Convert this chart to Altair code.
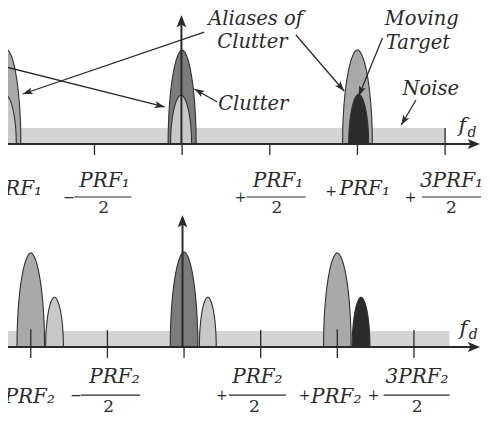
import math
import altair as alt
import pandas as pd

W, H = 474, 405

# ---------------- values ----------------
# spectral lobes: centre (units of PRF), half-width (PRF), relative amplitude, kind
top_outer_c = [-1.0, 0.0, 1.0]
top_outer_w = [0.080, 0.080, 0.085]
top_outer_h = [1.0, 1.0, 1.0]
top_outer_k = ["alias", "clutter", "alias"]
top_inner_c = [-1.006, -0.006, 1.007]
top_inner_w = [0.060, 0.060, 0.057]
top_inner_h = [0.52, 0.52, 0.53]
top_inner_k = ["target alias", "target alias", "target"]

bot_outer_c = [-1.0, 0.0, 1.0]
bot_outer_w = [0.09, 0.09, 0.09]
bot_outer_h = [1.0, 1.01, 1.0]
bot_outer_k = ["alias", "clutter", "alias"]
bot_inner_c = [-0.845, 0.155, 1.155]
bot_inner_w = [0.058, 0.055, 0.058]
bot_inner_h = [0.53, 0.53, 0.53]
bot_inner_k = ["target alias", "target alias", "target"]

noise_level = 0.17
top_noise = [-1.2, 1.5]
bot_noise = [-1.3, 1.732]

tick_f = [-1.0, -0.5, 0.0, 0.5, 1.0, 1.5]
top_tick_up = [0.0, 0.0, 0.0, 0.0, 0.0, 0.17]
bot_tick_up = [0.19, 0.18, 0.0, 0.18, 0.19, 0.18]
tick_down = -0.117

top_axis_end, bot_axis_end = 1.699, 1.932
top_spike = [-0.004, 1.372]
bot_spike = [-0.01, 1.404]

# tick label texts
top_sign_t = ["−", "−", "+", "+", "+"]
top_main_t = ["PRF₁", "PRF₁", "PRF₁", "PRF₁", "3PRF₁"]
bot_sign_t = ["−", "−", "+", "+", "+"]
bot_main_t = ["PRF₂", "PRF₂", "PRF₂", "PRF₂", "3PRF₂"]

# ---------------- layout of annotations ----------------
top_sign_xy = [(-1.12, -0.548), (-0.6447, -0.622), (0.3333, -0.622), (0.850, -0.548), (1.3035, -0.622)]
top_main_xy = [(-0.9427, -0.543), (-0.4424, -0.457), (0.5469, -0.457), (1.0416, -0.543), (1.5363, -0.457)]
top_bars = [(-0.6166, -0.2906, -0.564), (0.3671, 0.7043, -0.564), (1.3676, 1.7049, -0.564)]
top_dens = [(-0.448, -0.734), (0.5413, -0.734), (1.5363, -0.734)]

bot_sign_xy = [(-1.23, -0.569), (-0.7048, -0.569), (0.2469, -0.569), (0.7871, -0.569), (1.2373, -0.569)]
bot_main_xy = [(-1.0071, -0.596), (-0.4537, -0.383), (0.4785, -0.383), (0.9930, -0.596), (1.5203, -0.383)]
bot_bars = [(-0.6727, -0.2868, -0.511), (0.2920, 0.6650, -0.511), (1.3016, 1.7325, -0.511)]
bot_dens = [(-0.4920, -0.691), (0.4592, -0.691), (1.5203, -0.691)]

top_notes = [("Aliases of", 0.419, 1.271), ("Clutter", 0.401, 1.022), ("Moving", 1.367, 1.271),
             ("Target", 1.345, 1.012), ("Clutter", 0.406, 0.362), ("Noise", 1.418, 0.521)]
top_arrows = [(0.126, 1.191, -0.909, 0.532), (-1.05, 0.840, -0.0995, 0.394), (0.20, 0.447, 0.07, 0.585),
              (0.649, 1.160, 0.924, 0.564), (1.143, 1.128, 1.007, 0.511), (1.334, 0.468, 1.250, 0.202)]
top_fd = [(1.598, 0.128), (1.654, 0.074)]
bot_fd = [(1.822, 0.128), (1.886, 0.080)]

TOP_XD, TOP_YD = [-0.9933, 1.7105], [-2.8617, 1.4468]
BOT_XD, BOT_YD = [-1.1486, 1.9440], [-0.7021, 3.6064]

FILLS = {"clutter": "#7c7c7c", "alias": "#a9a9a9", "target alias": "#c8c8c8", "target": "#2b2b2b"}
INK = "#2a2a2a"
NOISE = "#d4d4d4"
FONT = "DejaVu Serif"
HEAD_S = "M0,0 L0.6,1.7 L0,1.3 L-0.6,1.7 Z"
HEAD_B = "M0,0 L0.7,1.75 L0,1.35 L-0.7,1.75 Z"


def panel(xd, yd, oc, ow, oh, ok, ic, iw, ih, ik, noise, axis_end, spike, tick_up,
          sign_t, sign_xy, main_t, main_xy, bars, dens, fd, notes=None, arrows=None):
    xs = alt.Scale(domain=xd, nice=False, zero=False)
    ys = alt.Scale(domain=yd, nice=False, zero=False)
    sx = W / (xd[1] - xd[0])
    sy = H / (yd[1] - yd[0])

    def X(f):
        return alt.X(f"{f}:Q", scale=xs, axis=None)

    def Y(f):
        return alt.Y(f"{f}:Q", scale=ys, axis=None)

    L = []
    # noise floor
    L.append(alt.Chart(pd.DataFrame({"f0": [noise[0]], "f1": [noise[1]], "y0": [0.0], "y1": [noise_level]}))
             .mark_rect(color=NOISE).encode(x=X("f0"), x2="f1", y=Y("y0"), y2="y1"))
    # lobes: one area + outline per lobe
    for c, w, h, k in ((oc, ow, oh, ok), (ic, iw, ih, ik)):
        for i in range(len(c)):
            base = (
                alt.Chart(pd.DataFrame({"c": [c[i]], "w": [w[i]], "h": [h[i]]}))
                .transform_calculate(u="sequence(-1, 1.0001, 0.01)")
                .transform_flatten(["u"])
                .transform_calculate(uu="clamp(datum.u, -1, 1)")
                .transform_calculate(
                    f="datum.c + datum.w * datum.uu",
                    a="datum.h * pow(max(0, 1 - pow(abs(datum.uu), 1.85)), 0.5)",
                )
            )
            L.append(base.mark_area(color=FILLS[k[i]], opacity=1)
                     .encode(x=X("f"), y=alt.Y("a:Q", scale=ys, axis=None, stack=None)))
            L.append(base.mark_line(color="#303030", strokeWidth=1.1)
                     .encode(x=X("f"), y=Y("a")))
    # ticks
    tdf = pd.DataFrame({"f": tick_f, "lo": [tick_down] * len(tick_f), "hi": tick_up})
    L.append(alt.Chart(tdf).mark_rule(color=INK, strokeWidth=1.3).encode(x=X("f"), y=Y("lo"), y2="hi"))
    # axis line + head
    L.append(alt.Chart(pd.DataFrame({"f0": [xd[0] - 0.2], "f1": [axis_end - 0.02], "y": [0.0]}))
             .mark_rule(color=INK, strokeWidth=2).encode(x=X("f0"), x2="f1", y=Y("y")))
    L.append(alt.Chart(pd.DataFrame({"f": [axis_end], "y": [0.0], "ang": [90]}))
             .mark_point(shape=HEAD_B, filled=True, size=200, color=INK, opacity=1)
             .encode(x=X("f"), y=Y("y"), angle=alt.Angle("ang:Q", scale=None)))
    # clutter spike
    L.append(alt.Chart(pd.DataFrame({"f": [spike[0]], "y0": [0.0], "y1": [spike[1] - 0.03]}))
             .mark_rule(color=INK, strokeWidth=2).encode(x=X("f"), y=Y("y0"), y2="y1"))
    L.append(alt.Chart(pd.DataFrame({"f": [spike[0]], "y": [spike[1]], "ang": [0]}))
             .mark_point(shape=HEAD_B, filled=True, size=200, color=INK, opacity=1)
             .encode(x=X("f"), y=Y("y"), angle=alt.Angle("ang:Q", scale=None)))
    # tick labels
    sdf = pd.DataFrame({"f": [p[0] for p in sign_xy], "y": [p[1] for p in sign_xy], "t": sign_t})
    L.append(alt.Chart(sdf).mark_text(font=FONT, fontSize=14, color=INK, align="center", baseline="alphabetic")
             .encode(x=X("f"), y=Y("y"), text="t:N"))
    mdf = pd.DataFrame({"f": [p[0] for p in main_xy], "y": [p[1] for p in main_xy], "t": main_t})
    L.append(alt.Chart(mdf).mark_text(font=FONT, fontStyle="italic", fontSize=20, color=INK, align="center",
                                      baseline="alphabetic")
             .encode(x=X("f"), y=Y("y"), text="t:N"))
    bdf = pd.DataFrame({"f0": [b[0] for b in bars], "f1": [b[1] for b in bars], "y": [b[2] for b in bars]})
    L.append(alt.Chart(bdf).mark_rule(color=INK, strokeWidth=1.2).encode(x=X("f0"), x2="f1", y=Y("y")))
    ddf = pd.DataFrame({"f": [d[0] for d in dens], "y": [d[1] for d in dens], "t": ["2"] * len(dens)})
    L.append(alt.Chart(ddf).mark_text(font=FONT, fontSize=17, color=INK, align="center", baseline="alphabetic")
             .encode(x=X("f"), y=Y("y"), text="t:N"))
    # f_d
    L.append(alt.Chart(pd.DataFrame({"f": [fd[0][0]], "y": [fd[0][1]], "t": ["f"]}))
             .mark_text(font=FONT, fontStyle="italic", fontSize=21, color=INK, align="center", baseline="alphabetic")
             .encode(x=X("f"), y=Y("y"), text="t:N"))
    L.append(alt.Chart(pd.DataFrame({"f": [fd[1][0]], "y": [fd[1][1]], "t": ["d"]}))
             .mark_text(font=FONT, fontStyle="italic", fontSize=14, color=INK, align="center", baseline="alphabetic")
             .encode(x=X("f"), y=Y("y"), text="t:N"))
    if notes:
        ndf = pd.DataFrame({"t": [n[0] for n in notes], "f": [n[1] for n in notes], "y": [n[2] for n in notes]})
        L.append(alt.Chart(ndf).mark_text(font=FONT, fontStyle="italic", fontSize=19.5, color=INK, align="center",
                                          baseline="alphabetic")
                 .encode(x=X("f"), y=Y("y"), text="t:N"))
    if arrows:
        adf = pd.DataFrame({"f0": [a[0] for a in arrows], "y0": [a[1] for a in arrows],
                            "f1": [a[2] for a in arrows], "y1": [a[3] for a in arrows]})
        adf["ang"] = [
            (math.degrees(math.atan2((a[2] - a[0]) * sx, (a[3] - a[1]) * sy)) + 360) % 360 for a in arrows
        ]
        L.append(alt.Chart(adf).mark_rule(color=INK, strokeWidth=1.3)
                 .encode(x=X("f0"), y=Y("y0"), x2="f1", y2="y1"))
        L.append(alt.Chart(adf).mark_point(shape=HEAD_S, filled=True, size=140, color=INK, opacity=1)
                 .encode(x=X("f1"), y=Y("y1"), angle=alt.Angle("ang:Q", scale=None)))
    return alt.layer(*L)


top = panel(TOP_XD, TOP_YD, top_outer_c, top_outer_w, top_outer_h, top_outer_k,
            top_inner_c, top_inner_w, top_inner_h, top_inner_k, top_noise, top_axis_end, top_spike, top_tick_up,
            top_sign_t, top_sign_xy, top_main_t, top_main_xy, top_bars, top_dens, top_fd, top_notes, top_arrows)
bottom = panel(BOT_XD, BOT_YD, bot_outer_c, bot_outer_w, bot_outer_h, bot_outer_k,
               bot_inner_c, bot_inner_w, bot_inner_h, bot_inner_k, bot_noise, bot_axis_end, bot_spike, bot_tick_up,
               bot_sign_t, bot_sign_xy, bot_main_t, bot_main_xy, bot_bars, bot_dens, bot_fd)

chart = (
    alt.layer(top, bottom)
    .resolve_scale(x="independent", y="independent")
    .properties(width=W, height=H, autosize=alt.AutoSizeParams(type="none"), padding=0, background="white")
    .configure_view(stroke=None)
)

chart.save("out.html", embed_options={"renderer": "svg", "actions": False})
